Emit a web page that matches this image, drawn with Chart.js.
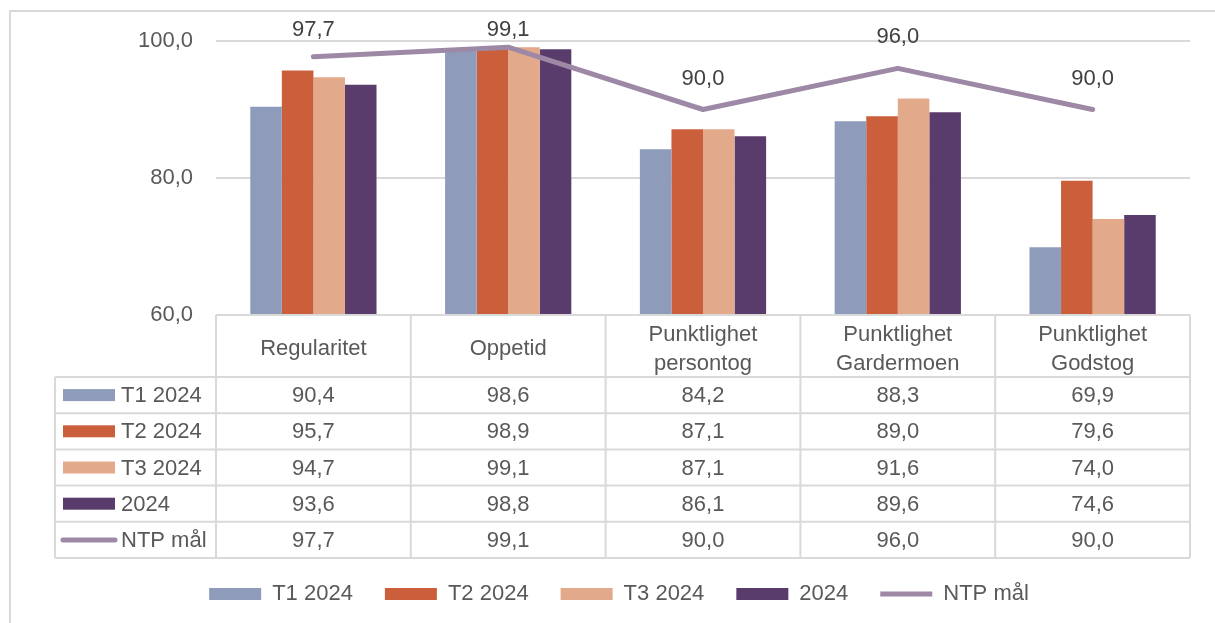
<!DOCTYPE html>
<html>
<head>
<meta charset="utf-8">
<script src="https://cdn.jsdelivr.net/npm/chart.js@4"></script>
<style>
  html, body { margin: 0; padding: 0; background: #fff; }
  #wrap { width: 1215px; height: 623px; position: relative; }
</style>
</head>
<body>
<div id="wrap"><canvas id="ntpChart"></canvas></div>
<script>
const categories = ["Regularitet", "Oppetid", ["Punktlighet", "persontog"], ["Punktlighet", "Gardermoen"], ["Punktlighet", "Godstog"]];
const seriesNames = ["T1 2024", "T2 2024", "T3 2024", "2024", "NTP mål"];
const t1 = [90.4, 98.6, 84.2, 88.3, 69.9];
const t2 = [95.7, 98.9, 87.1, 89.0, 79.6];
const t3 = [94.7, 99.1, 87.1, 91.6, 74.0];
const year2024 = [93.6, 98.8, 86.1, 89.6, 74.6];
const ntpGoal = [97.7, 99.1, 90.0, 96.0, 90.0];
const yTicks = [60, 80, 100];

const colors = ["#8e9bba", "#cb5f3b", "#e3a98b", "#5a3c6c", "#9d88a6"];
const gridColor = "#d9d9d9";
const textColor = "#595959";
const fontFamily = '"Liberation Sans", Arial, sans-serif';

const fmt = (v) => v.toFixed(1).replace(".", ",");

Chart.defaults.font.family = fontFamily;
Chart.defaults.font.size = 22;
Chart.defaults.color = textColor;

const HEAD_H = 62;
const ROW_H = 36.2;

// outer frame of the chart object
const framePlugin = {
    id: "frame",
    beforeDraw(chart) {
        const ctx = chart.ctx;
        ctx.save();
        ctx.strokeStyle = gridColor;
        ctx.lineWidth = 2;
        ctx.strokeRect(10, 11, 1400, 800);
        ctx.restore();
    },
};

// value labels above the NTP line
const lineLabels = {
    id: "lineLabels",
    afterDatasetsDraw(chart) {
        const ctx = chart.ctx;
        const meta = chart.getDatasetMeta(4);
        ctx.save();
        ctx.font = "22px " + fontFamily;
        ctx.fillStyle = "#404040";
        ctx.textAlign = "center";
        ctx.textBaseline = "middle";
        meta.data.forEach((pt, i) => {
            ctx.fillText(fmt(ntpGoal[i]), pt.x, Math.max(pt.y - 31, 30));
        });
        ctx.restore();
    },
};

// data table under the plot, columns follow the x scale
const dataTable = {
    id: "dataTable",
    afterDraw(chart) {
        const { ctx, chartArea } = chart;
        const x = chart.scales.x;
        const n = categories.length;
        const half = (x.getPixelForValue(1) - x.getPixelForValue(0)) / 2;
        const top = chartArea.bottom;
        const rowsTop = top + HEAD_H;
        const bottom = rowsTop + ROW_H * 5;
        const keyLeft = 55;

        ctx.save();
        ctx.strokeStyle = gridColor;
        ctx.lineWidth = 2;
        ctx.beginPath();
        ctx.moveTo(chartArea.left, top);
        ctx.lineTo(chartArea.right, top);
        for (let r = 0; r <= 5; r++) {
            const yy = rowsTop + ROW_H * r;
            ctx.moveTo(keyLeft, yy);
            ctx.lineTo(chartArea.right, yy);
        }
        ctx.moveTo(keyLeft, rowsTop);
        ctx.lineTo(keyLeft, bottom);
        for (let i = 0; i <= n; i++) {
            const px = i < n ? x.getPixelForValue(i) - half : x.getPixelForValue(n - 1) + half;
            ctx.moveTo(px, top);
            ctx.lineTo(px, bottom);
        }
        ctx.stroke();

        ctx.font = "22px " + fontFamily;
        ctx.textBaseline = "middle";
        chart.data.datasets.forEach((ds, r) => {
            const cy = rowsTop + ROW_H * (r + 0.5);
            if (ds.type === "line") {
                ctx.strokeStyle = ds.borderColor;
                ctx.lineWidth = 5;
                ctx.lineCap = "round";
                ctx.beginPath();
                ctx.moveTo(63, cy);
                ctx.lineTo(115, cy);
                ctx.stroke();
            } else {
                ctx.fillStyle = ds.backgroundColor;
                ctx.fillRect(63, cy - 6, 52, 12);
            }
            ctx.fillStyle = textColor;
            ctx.textAlign = "left";
            ctx.fillText(ds.label, 121, cy + 1);
            ctx.textAlign = "center";
            ds.data.forEach((v, i) => {
                ctx.fillText(fmt(v), x.getPixelForValue(i), cy + 1);
            });
        });
        ctx.restore();
    },
};

const barSet = (label, data, color) => ({
    type: "bar",
    label: label,
    data: data,
    backgroundColor: color,
    categoryPercentage: 0.648,
    barPercentage: 1,
    order: 1,
});

new Chart(document.getElementById("ntpChart"), {
    data: {
        labels: categories,
        datasets: [
            barSet(seriesNames[0], t1, colors[0]),
            barSet(seriesNames[1], t2, colors[1]),
            barSet(seriesNames[2], t3, colors[2]),
            barSet(seriesNames[3], year2024, colors[3]),
            {
                type: "line",
                label: seriesNames[4],
                data: ntpGoal,
                borderColor: colors[4],
                backgroundColor: colors[4],
                borderWidth: 5,
                borderCapStyle: "round",
                borderJoinStyle: "round",
                pointRadius: 0,
                tension: 0,
                order: 0,
            },
        ],
    },
    options: {
        responsive: true,
        maintainAspectRatio: false,
        animation: false,
        layout: { padding: { top: 41, right: 25, bottom: 8, left: 48 } },
        plugins: {
            tooltip: { enabled: false },
            legend: {
                position: "bottom",
                labels: {
                    usePointStyle: true,
                    pointStyleWidth: 52,
                    boxHeight: 12,
                    padding: 32,
                    color: textColor,
                    font: { size: 22 },
                    sort: (a, b) => a.datasetIndex - b.datasetIndex,
                    generateLabels(chart) {
                        const items = Chart.defaults.plugins.legend.labels.generateLabels(chart);
                        items.forEach((it) => {
                            it.pointStyle = it.datasetIndex === 4 ? "line" : "rect";
                        });
                        return items;
                    },
                },
            },
        },
        scales: {
            x: {
                grid: { display: false },
                border: { display: false },
                ticks: {
                    crossAlign: "center",
                    padding: 12,
                    maxRotation: 0,
                    autoSkip: false,
                    color: textColor,
                    font: { size: 22, lineHeight: 1.3 },
                },
                afterFit(scale) {
                    scale.height = 236;
                    scale.paddingLeft = 0;
                    scale.paddingRight = 0;
                },
            },
            y: {
                min: 60,
                max: 100,
                afterBuildTicks(scale) {
                    scale.ticks = yTicks.map((v) => ({ value: v }));
                },
                grid: { color: gridColor, lineWidth: 2, drawTicks: false },
                border: { display: false },
                ticks: {
                    padding: 23,
                    color: textColor,
                    font: { size: 22 },
                    callback: (v) => fmt(v),
                },
                afterFit(scale) {
                    scale.width = 168;
                    scale.paddingTop = 0;
                    scale.paddingBottom = 0;
                },
            },
        },
    },
    plugins: [framePlugin, lineLabels, dataTable],
});
</script>
</body>
</html>
